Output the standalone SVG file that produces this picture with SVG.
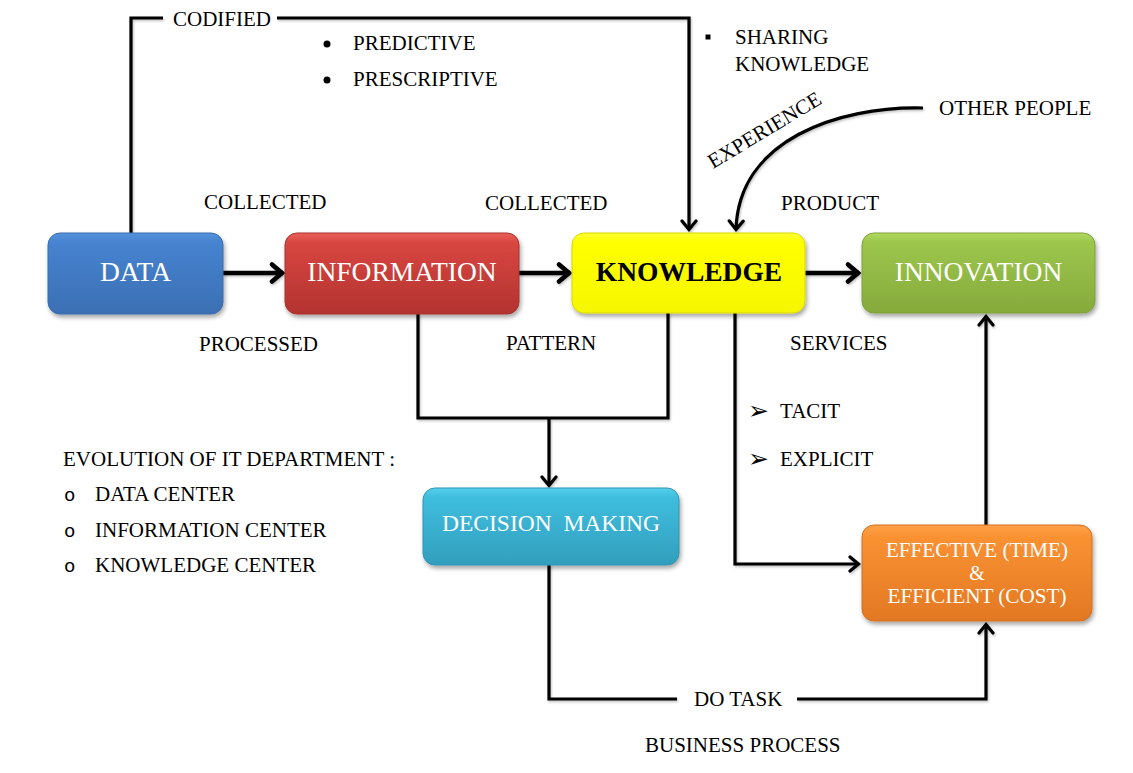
<svg xmlns="http://www.w3.org/2000/svg" width="1133" height="773" viewBox="0 0 1133 773">
<defs>
<style>
.lbl{font-family:"Liberation Serif","Times New Roman",serif;font-size:21px;fill:#000}
.nt{font-family:"Liberation Serif","Times New Roman",serif;font-size:27.5px;fill:#fff;text-anchor:middle}
.ln{fill:none;stroke:#000;stroke-width:3.2;stroke-linejoin:miter}
.main{fill:none;stroke:#000;stroke-width:4.5}
.box{stroke-width:1}
.bul{font-family:"DejaVu Sans",sans-serif;fill:#000}
.mono{font-family:"Liberation Mono","Courier New",monospace;font-size:19px;fill:#000}
</style>
<linearGradient id="gBlue" x1="0" y1="0" x2="0" y2="1"><stop offset="0" stop-color="#5592dc"/><stop offset="0.12" stop-color="#4683d0"/><stop offset="1" stop-color="#3b6fb3"/></linearGradient>
<linearGradient id="gRed" x1="0" y1="0" x2="0" y2="1"><stop offset="0" stop-color="#e8605a"/><stop offset="0.12" stop-color="#d84641"/><stop offset="1" stop-color="#b3332f"/></linearGradient>
<linearGradient id="gYel" x1="0" y1="0" x2="0" y2="1"><stop offset="0" stop-color="#ffff33"/><stop offset="0.12" stop-color="#ffff00"/><stop offset="1" stop-color="#f6f600"/></linearGradient>
<linearGradient id="gGrn" x1="0" y1="0" x2="0" y2="1"><stop offset="0" stop-color="#b0d860"/><stop offset="0.12" stop-color="#9cc64c"/><stop offset="1" stop-color="#86aa3c"/></linearGradient>
<linearGradient id="gCyn" x1="0" y1="0" x2="0" y2="1"><stop offset="0" stop-color="#55cfec"/><stop offset="0.12" stop-color="#3fbede"/><stop offset="1" stop-color="#329ebd"/></linearGradient>
<linearGradient id="gOrg" x1="0" y1="0" x2="0" y2="1"><stop offset="0" stop-color="#ffa048"/><stop offset="0.12" stop-color="#fa9233"/><stop offset="1" stop-color="#e27822"/></linearGradient>
<filter id="sh" x="-10%" y="-10%" width="125%" height="135%"><feDropShadow dx="1.5" dy="3" stdDeviation="2" flood-color="#000" flood-opacity="0.35"/></filter>
<filter id="lsh" x="-5%" y="-5%" width="110%" height="110%"><feDropShadow dx="1" dy="1.5" stdDeviation="1" flood-color="#000" flood-opacity="0.25"/></filter>
<marker id="ah" viewBox="-13 -10 15 20" refX="0" refY="0" markerWidth="15" markerHeight="20" markerUnits="userSpaceOnUse" orient="auto">
<path d="M-9,-7 L-0.5,0 L-9,7" fill="none" stroke="#000" stroke-width="3.2" stroke-linecap="round"/>
</marker>
<marker id="ahb" viewBox="-15 -12 17 24" refX="0" refY="0" markerWidth="17" markerHeight="24" markerUnits="userSpaceOnUse" orient="auto">
<path d="M-11,-8.5 L-1,0 L-11,8.5" fill="none" stroke="#000" stroke-width="4.5" stroke-linecap="round"/>
</marker>
</defs>
<rect width="1133" height="773" fill="#fff"/>

<g id="connectors" filter="url(#lsh)">
<line class="main" x1="223" y1="273" x2="283" y2="273" marker-end="url(#ahb)"/>
<line class="main" x1="519" y1="273" x2="570" y2="273" marker-end="url(#ahb)"/>
<line class="main" x1="805" y1="273" x2="859" y2="273" marker-end="url(#ahb)"/>
<polyline class="ln" points="131,233 131,18 163,18"/>
<polyline class="ln" points="277,18 689,18 689,230" marker-end="url(#ah)"/>
<path class="ln" d="M923,108 C838,106 738,140 736,230" marker-end="url(#ah)"/>
<polyline class="ln" points="418,314 418,418 668,418 668,313"/>
<line class="ln" x1="549" y1="418" x2="549" y2="486" marker-end="url(#ah)"/>
<polyline class="ln" points="735,313 735,564 859,564" marker-end="url(#ah)"/>
<line class="ln" x1="986" y1="525" x2="986" y2="316" marker-end="url(#ah)"/>
<polyline class="ln" points="549,565 549,699 677,699"/>
<polyline class="ln" points="797,699 986,699 986,624" marker-end="url(#ah)"/>
</g>

<g id="node-data">
<rect class="box" x="48" y="233" width="175" height="81" rx="12" fill="url(#gBlue)" stroke="#3a6db0" filter="url(#sh)"/>
<text class="nt" x="135.5" y="281">DATA</text>
</g>
<g id="node-information">
<rect class="box" x="285" y="233" width="234" height="81" rx="12" fill="url(#gRed)" stroke="#a9302c" filter="url(#sh)"/>
<text class="nt" x="402" y="281">INFORMATION</text>
</g>
<g id="node-knowledge">
<rect class="box" x="572" y="233" width="233" height="80" rx="12" fill="url(#gYel)" stroke="#d8d800" filter="url(#sh)"/>
<text class="nt" x="689" y="281" style="fill:#000;font-weight:bold">KNOWLEDGE</text>
</g>
<g id="node-innovation">
<rect class="box" x="862" y="233" width="233" height="80" rx="12" fill="url(#gGrn)" stroke="#7f9f38" filter="url(#sh)"/>
<text class="nt" x="978.5" y="281">INNOVATION</text>
</g>
<g id="node-decision">
<rect class="box" x="423" y="488" width="256" height="77" rx="12" fill="url(#gCyn)" stroke="#2f95b3" filter="url(#sh)"/>
<text class="nt" x="551" y="531" style="font-size:23.5px" xml:space="preserve">DECISION  MAKING</text>
</g>
<g id="node-effective">
<rect class="box" x="862" y="525" width="230" height="96" rx="12" fill="url(#gOrg)" stroke="#d27020" filter="url(#sh)"/>
<text class="nt" x="977" y="557" style="font-size:20px" textLength="182" lengthAdjust="spacingAndGlyphs">EFFECTIVE (TIME)</text>
<text class="nt" x="977" y="580" style="font-size:20px">&amp;</text>
<text class="nt" x="977" y="603" style="font-size:20px" textLength="179" lengthAdjust="spacingAndGlyphs">EFFICIENT (COST)</text>
</g>

<g id="labels">
<text class="lbl" x="173" y="26">CODIFIED</text>
<circle cx="327" cy="44" r="3.5" fill="#000"/>
<text class="lbl" x="353" y="50">PREDICTIVE</text>
<circle cx="327" cy="80" r="3.5" fill="#000"/>
<text class="lbl" x="353" y="86">PRESCRIPTIVE</text>
<rect x="705.5" y="34.5" width="5" height="5" fill="#000"/>
<text class="lbl" x="735" y="44">SHARING</text>
<text class="lbl" x="735" y="71">KNOWLEDGE</text>
<text class="lbl" x="0" y="0" text-anchor="middle" transform="translate(768,136) rotate(-31)">EXPERIENCE</text>
<text class="lbl" x="939" y="115">OTHER PEOPLE</text>
<text class="lbl" x="204" y="209">COLLECTED</text>
<text class="lbl" x="485" y="210">COLLECTED</text>
<text class="lbl" x="781" y="210">PRODUCT</text>
<text class="lbl" x="199" y="351">PROCESSED</text>
<text class="lbl" x="506" y="350">PATTERN</text>
<text class="lbl" x="790" y="350">SERVICES</text>
<text class="bul" x="748" y="419" font-size="25">➢</text>
<text class="lbl" x="780" y="418">TACIT</text>
<text class="bul" x="748" y="467" font-size="25">➢</text>
<text class="lbl" x="780" y="466">EXPLICIT</text>
<text class="lbl" x="63" y="466">EVOLUTION OF IT DEPARTMENT :</text>
<text class="mono" x="64" y="501">o</text>
<text class="lbl" x="95" y="501">DATA CENTER</text>
<text class="mono" x="64" y="537">o</text>
<text class="lbl" x="95" y="537">INFORMATION CENTER</text>
<text class="mono" x="64" y="572">o</text>
<text class="lbl" x="95" y="572">KNOWLEDGE CENTER</text>
<text class="lbl" x="694" y="706">DO TASK</text>
<text class="lbl" x="645" y="752">BUSINESS PROCESS</text>
</g>
</svg>
